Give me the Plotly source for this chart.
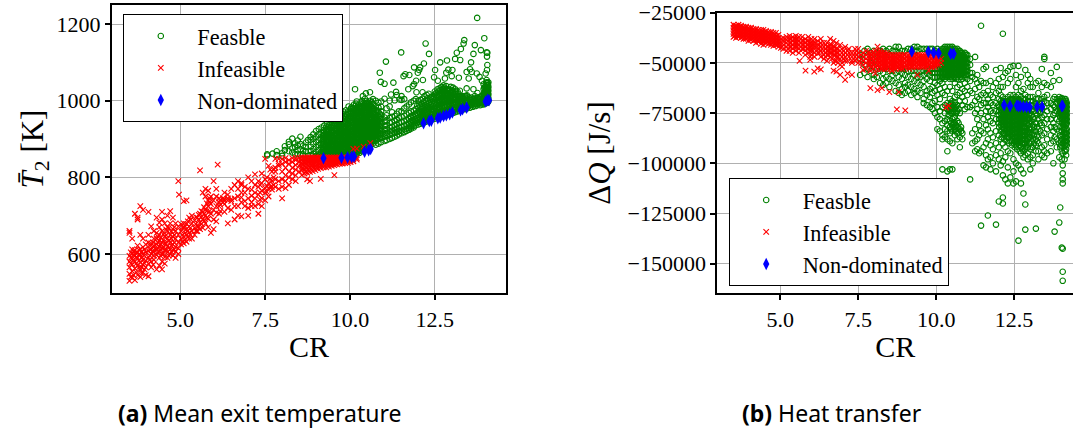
import plotly.graph_objects as go

W, H = 1073, 429

# Every row: (CR, [values at about that CR])
# Panel (a): mean exit temperature [K]
feasible_a = [
(7.56,[857,860]),(7.72,[862]),(7.84,[858,868]),(8.0,[856,863]),(8.08,[871,881]),(8.2,[868,886,893]),(8.3,[865,876,901]),
(8.38,[860,879,889]),(8.46,[861,871,883,896]),(8.54,[858,873,887,906]),(8.62,[860,869,883]),(8.7,[868,879,891]),
(8.76,[856,897]),(8.84,[858,869,880,898,905]),(8.92,[862,874,887,901,912]),(9.0,[856,866,880,892,906,921]),
(9.08,[860,872,884,897,912,926]),(9.16,[855,866,877,889,901,916,930]),(9.24,[858,868,880,893,905,919,935]),
(9.32,[855,864,874,885,897,909,922,940]),(9.4,[857,868,878,889,902,914,928,944]),(9.48,[855,863,873,884,895,907,920,933,950]),
(9.56,[858,868,878,889,900,912,925,938,955]),(9.64,[855,864,874,884,895,906,918,931,944,962]),
(9.72,[857,867,877,887,899,910,922,935,948,968]),(9.8,[856,865,874,884,894,904,915,927,940,953,972]),
(9.88,[858,868,878,888,898,909,920,932,945,958,975]),(9.96,[856,865,874,884,894,905,916,928,940,952,965,985]),
(10.04,[858,868,878,888,898,909,920,932,944,956,968,982]),(10.12,[859,866,875,884,894,904,915,926,938,950,962,975,990]),
(10.2,[862,870,880,890,900,910,921,932,944,956,968,980,998]),(10.28,[864,873,883,892,902,913,924,935,947,959,971,984]),
(10.36,[868,876,886,895,905,916,927,938,950,962,974,986,1000]),(10.44,[872,881,890,900,910,921,932,944,956,968,980,992,1005]),
(10.52,[876,885,895,905,915,926,937,948,960,972,984,996]),(10.6,[882,890,900,910,920,931,942,953,964,976,988,1000]),
(10.68,[888,896,906,916,926,936,947,958,968,980,992,1004]),(10.76,[885,895,903,912,922,932,942,952,963,975,986,1000]),
(10.84,[888,900,908,917,927,937,948,958,970,982,995]),(10.92,[892,903,912,921,930,941,952,962,972,984,998]),
(11.02,[895,906,914,924,934,945,956,1005]),(11.08,[897,908,916,926,936,948,962,980]),(11.17,[900,911,920,930,942,955,985,1000]),
(11.24,[903,914,922,932,944,958,970]),(11.32,[906,916,925,936,948,960,1001]),(11.38,[909,918,927,938,950,966]),
(11.44,[912,920,930,942,955,972]),(11.52,[915,922,932,944,958,972,1002,1012]),(11.6,[918,925,935,946,960,980,1004]),(11.67,[921,927,938,950,964,985]),
(11.74,[924,929,940,953,968,990]),(11.8,[927,932,943,956,972,996]),(11.88,[930,934,945,958,974,1000]),(11.94,[936,948,961,978,1004]),
(12.02,[938,950,964,982,1000]),(12.08,[940,952,966,984,1002]),(12.14,[942,954,968,986,1005,1022]),(12.2,[944,956,970,988,1012]),
(12.26,[946,958,972,990,1015]),(12.32,[948,960,975,993,1018]),(12.4,[950,962,978,996,1010]),(12.5,[953,965,980,998,1016,1024]),
(12.58,[955,967,982,1000,1014,1030]),(12.64,[957,969,984,1002,1018,1032]),(12.7,[958,970,986,1004,1020,1036]),(12.76,[960,972,988,1006,1022,1040]),
(12.84,[962,974,990,1006,1020,1038]),(12.9,[964,976,992,1004,1018,1030]),(12.97,[966,978,994,1008,1022,1036]),(13.04,[968,980,994,1006,1020,1034]),
(13.1,[970,982,996,1008,1022,1030]),(13.17,[972,984,996,1010,1024]),(13.24,[974,986,998,1012,1026]),(13.3,[976,986,998,1010]),
(13.39,[978,988,1000,1012]),(13.45,[980,990,1002,1014]),(13.54,[982,992,1002]),(13.62,[984,994,1004]),
(13.7,[986,996,1006]),(13.76,[988,996,1008,1020]),(13.84,[988,998,1010]),(13.88,[990,1000,1012]),
(13.94,[990,1000,1010,1030]),(13.98,[992,1002,1012,1024,1036]),(14.02,[994,1002,1012,1024,1036,1048]),(14.04,[994,1002,1012,1022,1034,1046]),
(14.06,[996,1004,1014,1024,1034,1046]),(14.08,[998,1006,1016,1026,1036,1048]),
]

# scattered points above the main band
feasible_a_sparse_x = [13.75,13.37,13.35,13.96,13.68,13.27,13.15,13.10,13.25,13.64,13.86,14.03,14.05,12.23,12.33,11.51,11.06,12.66,12.86,13.57,14.04,14.05,14.04,14.0,10.88,10.91,11.02,11.28,10.15,10.59,10.47,10.38,11.21,11.36,11.38,11.46,11.58,11.63,11.75,11.89,12.07,12.18,12.0,12.04,12.15,11.95,11.89,11.85,11.72,11.96,12.51,12.48,12.8,12.84,12.9,13.02,13.0,13.21,12.59,13.44,13.54,13.59,13.5,13.44,13.64,13.74,13.82,13.89,14.03,13.94]
feasible_a_sparse_y = [1216,1158,1149,1163,1145,1135,1125,1109,1106,1122,1132,1126,1125,1149,1122,1126,1102,1100,1105,1100,1115,1093,1080,1071,1073,1049,1044,1047,1030,1022,1019,1012,1016,1023,1015,1003,1064,1069,1067,1087,1087,1097,1073,1080,1054,1052,1043,1038,1030,1022,1080,1061,1058,1073,1081,1080,1064,1060,1052,1075,1082,1075,1058,1032,1030,1071,1062,1052,1054,1043]

feasible_a_dense = [
(9.2,[861,871,883,896,908]),(9.28,[859,869,880,892,903,915]),(9.36,[862,872,883,894,906,918,932]),(9.44,[859,869,880,891,903,916,930]),
(9.52,[860,870,881,893,904,916,929,942]),(9.6,[859,869,880,891,903,915,928,941]),(9.68,[861,871,881,892,904,915,927,940,952]),
(9.76,[860,870,880,891,902,913,925,938,950]),(9.84,[861,870,880,890,900,911,922,934,947,960]),(9.92,[860,870,880,890,901,912,923,936,949,962]),
(10.0,[861,871,881,891,901,912,924,936,948,960,974]),(10.08,[862,871,881,891,902,913,925,937,949,961,973]),(10.16,[864,873,883,893,903,914,926,938,950,962,974,986]),
(10.24,[867,876,886,896,906,917,928,940,952,964,976,988]),(10.32,[870,879,889,899,909,920,932,943,955,967,979,992]),(10.4,[874,883,893,903,913,924,935,946,958,970,982,994]),
(10.48,[878,888,898,908,918,929,940,951,963,975,987,999]),(10.56,[884,893,903,913,923,934,945,956,968,980,992]),(10.64,[890,899,909,919,929,940,951,962,973,985,996]),
(10.72,[897,906,916,925,936,946,957,968,979]),(10.8,[902,911,921,930,941,951,962,973]),(10.88,[904,914,924,934,945,956,966]),
(11.78,[935,946,958]),(11.84,[938,949,962]),
(11.92,[941,952,966]),(11.98,[943,954,968,986]),(12.05,[945,956,970,990]),(12.11,[947,958,972,992]),(12.17,[949,960,974,996]),(12.23,[950,962,976,998]),
(12.29,[952,964,980,1000]),(12.36,[954,967,984,1003]),(12.44,[956,970,986,1004]),(12.54,[959,973,990,1008,1020]),(12.61,[961,976,993,1010,1024]),
(12.67,[963,978,996,1012,1028]),(12.73,[965,980,996,1014,1030]),(12.8,[967,982,998,1014,1030]),(12.87,[969,984,1000,1012,1026]),(12.93,[971,986,1000,1014,1028]),
(13.0,[973,988,1000,1014,1028]),(13.07,[975,988,1002,1016]),(13.14,[977,990,1004,1018]),(13.2,[979,992,1004,1018]),(13.27,[981,992,1004]),(13.34,[983,994,1006]),
(13.42,[985,996,1008]),(13.5,[987,997,1008]),(13.58,[989,998,1008]),(13.66,[990,1000]),(13.74,[992,1002]),(13.8,[993,1004]),(13.91,[995,1005]),(13.97,[996,1006,1018]),
(14.01,[997,1007,1018,1030]),(14.03,[998,1007,1018,1028,1040]),(14.05,[999,1008,1018,1029,1040]),(14.07,[1000,1010,1020,1031,1042]),
]

feasible_a_fill = [
(9.22,[863,875,887,899,911,923]),(9.3,[861,872,884,896,908,920,930]),(9.38,[860,873,885,897,910,922,936]),(9.46,[862,875,887,899,911,924,938]),
(9.54,[863,874,885,897,909,921,934,948]),(9.62,[862,874,886,898,910,922,934,950]),(9.7,[863,874,885,897,908,920,932,944,958]),(9.78,[862,874,886,897,908,920,932,944,958]),
(9.86,[863,875,885,895,906,917,928,940,952,966]),(9.94,[862,875,885,896,907,918,930,942,955,970]),(10.02,[864,875,885,896,907,918,930,942,954,966,978]),(10.1,[865,876,886,897,908,919,931,943,955,967,980]),
(10.18,[867,877,888,898,909,920,932,944,956,968,980,992]),(10.26,[870,880,890,901,912,923,934,946,958,970,982]),(10.34,[873,883,894,904,915,926,938,949,961,973,985,996]),(10.42,[878,888,898,908,919,930,941,952,964,976,988]),
(10.5,[882,892,902,913,924,934,945,957,969,981,993]),(10.58,[887,897,908,918,928,939,950,962,974,986]),(10.66,[893,903,914,924,935,945,956,967,978]),(10.74,[900,910,920,930,941,951,962]),
(12.03,[944,957,972]),(12.12,[950,963,979]),(12.2,[952,966,982]),(12.28,[955,968,984,1006]),(12.38,[958,972,989,1008]),(12.47,[960,975,992,1010]),(12.56,[963,979,996,1015]),(12.63,[965,981,998,1014]),
(12.7,[967,982,1000,1016,1026]),(12.78,[970,985,1002,1018,1034]),(12.86,[972,988,1004,1016,1030]),(12.95,[975,990,1006,1020]),(13.03,[977,992,1008,1024]),(13.12,[980,994,1010,1026]),(13.22,[983,996,1010]),(13.32,[986,998,1012]),
(13.44,[988,1000,1012]),(13.56,[990,1002]),(13.68,[992,1004,1012]),(13.82,[995,1008]),(13.96,[998,1008,1022,1034]),
]

infeasible_a = [
(3.5,[530,548,565,580,595,655,660]),(3.58,[538,555,572,588,600,612,640]),(3.66,[532,562,580,596,610,705]),(3.74,[545,570,590,604,622,690,695]),
(3.82,[540,558,578,598,612,650,725]),(3.9,[552,572,585,600,618,640,715]),(3.98,[545,565,582,605,625]),(4.06,[542,575,592,608,630,650,710]),
(4.14,[565,580,600,612,628,672]),(4.22,[585,596,610,622,640,660]),(4.3,[560,598,612,625,640,655,695]),(4.38,[570,590,606,620,635,650,670,682]),
(4.46,[560,580,600,615,630,660,690,710]),(4.54,[575,592,610,628,645,680]),(4.62,[590,605,620,640,660,670,700]),(4.7,[600,612,630,650,680,712]),
(4.78,[596,610,625,645,665,695]),(4.86,[590,606,618,640,660,680]),(4.94,[600,615,630,650,672,790]),(4.96,[755]),(5.02,[625,640,660,678]),
(5.1,[628,645,668,680,738]),(5.18,[632,650,665,678,740]),(5.26,[640,655,672,695]),(5.34,[640,660,680,700]),(5.42,[650,668,688]),(5.5,[660,672,695]),
(5.58,[665,682,705,818]),(5.66,[668,690,710,760]),(5.74,[680,700,715,750,770]),(5.82,[670,692,725,740,765]),(5.9,[655,705,730,750]),(5.98,[665,690,715,740,790]),
(6.06,[685,708,725,750,770]),(6.1,[833]),(6.14,[705,725,735,745]),(6.3,[710,730,742,760]),(6.4,[680,720,740,745,755]),(6.5,[715,738,743,770]),(6.6,[690,725,745,780]),
(6.7,[700,725,750,770,790]),(6.8,[698,735,748,760,780,785]),(6.9,[725,738,760,775]),(7.0,[700,720,745,770,800]),(7.1,[725,735,752,768,790]),(7.2,[725,745,760,780,808]),
(7.3,[705,730,755,775,790]),(7.4,[725,745,765,785,810]),(7.5,[740,760,772,795,848]),(7.6,[750,770,785,830]),(7.7,[768,775,790,815]),(7.8,[775,795,815,825,848]),
(7.9,[770,790,830,835,848]),(8.0,[745,775,795,815,835,848]),(8.1,[772,790,805,825,840,850]),(8.2,[780,800,815,835,845]),(8.3,[795,810,825,840,850]),
(8.4,[790,805,820,832,845,850]),(8.5,[815,830,840,850]),(8.58,[806,818,828,838,846,852]),(8.66,[810,820,830,838,846,852]),(8.74,[795,812,824,834,842,852]),
(8.82,[790,814,826,836,844,852]),(8.9,[816,826,834,842,848,852]),(8.98,[819,828,836,843,848,852]),(9.06,[822,830,838,845,852]),(9.14,[796,824,832,840,846,852]),
(9.22,[826,834,841,847,852]),(9.3,[826,834,842,847,852]),(9.38,[828,836,842,848,852]),(9.46,[830,836,843,848,852]),(9.54,[806,832,838,844,849,852]),
(9.62,[834,840,845,849,852]),(9.7,[835,841,846,852]),(9.78,[836,841,846,852]),(9.86,[837,842,847,852]),(9.94,[838,843,848,852]),(10.02,[840,845,849,852]),
(10.1,[842,847,852,874]),(10.2,[846,850,875]),(10.4,[880]),(10.6,[889]),
]

infeasible_a_dense = [
(3.54,[540,575,590,604]),(3.62,[545,585,598,606]),(3.7,[552,575,592,604]),(3.78,[565,582,598,610]),(3.86,[550,565,592,607]),(3.94,[560,576,596,612]),
(4.1,[585,596,612,622]),(4.2,[572,604,618,630]),(4.34,[604,615,630,645]),(4.42,[595,612,626,642]),(4.5,[600,616,636,652]),(4.58,[612,626,650,664]),(4.66,[596,616,636,668]),
(4.74,[605,622,640,658]),(4.82,[612,630,650,670]),(5.06,[632,650,668]),(5.14,[636,655,672]),(5.22,[645,660,685]),(5.3,[650,668,690]),(5.46,[660,678,696]),(5.54,[672,690,702]),
(5.62,[678,696,712]),(5.7,[686,705,722]),(5.78,[695,712,732]),(5.86,[712,735,745]),(6.18,[712,728,742]),(6.26,[735,742,746]),(7.35,[742,760,780]),(7.55,[762,778,800]),
(7.65,[775,796,820]),(7.75,[780,800,822]),(8.6,[822,834,842,849]),(8.7,[816,826,836,844,850]),(8.78,[820,830,840,848]),(8.86,[822,832,840,846,850]),(8.94,[824,833,840,846,850]),
(9.02,[826,834,842,850]),(9.1,[828,836,844,850]),(9.18,[830,838,844,850]),(9.26,[830,838,845,850]),(9.34,[832,840,846,850]),(9.42,[834,840,846,850]),(9.5,[834,841,846,850]),
(9.58,[836,842,847,850]),(9.66,[838,843,848,851]),(9.74,[838,844,849]),(9.82,[840,845,850]),(9.9,[841,846,850]),(9.98,[842,847,851]),
]

non_dominated_a_x = [9.22,9.75,9.93,10.05,10.12,10.43,10.55,10.61,12.17,12.34,12.4,12.59,12.66,12.76,12.84,12.94,13.02,13.26,13.32,13.44,14.0,14.06,14.1]
non_dominated_a_y = [850,851,852,853,854,867,871,874,941,947,948,954,956,960,962,965,969,975,978,982,998,1002,1001]

# Panel (b): heat transfer, values in thousands of J/s
feasible_b = [
(7.56,[-46,-48,-56]),(7.7,[-44,-51,-55]),(7.8,[-43,-47,-53,-57]),(7.9,[-45,-50,-54]),(8.0,[-44,-48,-52,-56,-58]),(8.1,[-45,-47,-53,-57]),(8.2,[-44,-48,-54,-60]),
(8.3,[-43,-46,-52,-55,-58,-61]),(8.4,[-44,-47,-53,-57,-60]),(8.5,[-43,-46,-54,-58,-62]),(8.6,[-44,-50,-54,-56,-59]),(8.7,[-42,-44,-55,-60,-64]),
(8.8,[-42,-45,-54,-57,-61,-65]),(8.9,[-44,-53,-55,-58,-63,-66]),(9.0,[-44,-53,-56,-60,-62,-65]),(9.1,[-43,-54,-57,-61,-64]),(9.2,[-43,-54,-58,-62,-66]),
(9.3,[-42,-44,-54,-56,-59,-63,-65]),(9.4,[-42,-44,-54,-57,-60,-64,-67]),(9.5,[-43,-54,-57,-61,-65]),(9.6,[-43,-54,-56,-59,-62,-68,-70]),(9.7,[-43,-53,-55,-58,-64,-66,-71]),
(9.8,[-43,-53,-54,-56,-59,-63,-67,-72]),(9.88,[-43,-45,-53,-55,-57,-62,-65,-70,-73]),(9.96,[-44,-46,-53,-55,-57,-60,-64,-69,-75]),(10.04,[-43,-45,-47,-53,-55,-57,-61,-66,-72,-77,-83]),
(10.12,[-44,-46,-48,-53,-55,-57,-59,-63,-68,-74,-78,-84]),(10.2,[-43,-45,-47,-49,-51,-53,-55,-57,-60,-65,-72,-80,-86,-88,-103]),(10.28,[-42,-44,-46,-48,-50,-52,-54,-56,-58,-62,-66,-71,-75,-79,-83,-87]),
(10.36,[-42,-44,-46,-48,-50,-52,-54,-56,-57,-64,-70,-73,-78,-81,-84,-88,-94,-104]),(10.44,[-42,-44,-46,-48,-50,-52,-54,-56,-58,-62,-68,-71,-74,-79,-82,-85,-89,-103]),
(10.52,[-42,-44,-46,-48,-50,-52,-54,-56,-58,-64,-69,-72,-75,-78,-81,-84,-90,-103]),(10.6,[-43,-45,-47,-49,-51,-53,-55,-57,-60,-67,-70,-73,-77,-80,-83,-86]),
(10.68,[-43,-45,-47,-49,-51,-53,-55,-57,-62,-66,-71,-74,-79,-82,-85,-88]),(10.76,[-44,-46,-48,-50,-52,-54,-56,-61,-65,-69,-75,-83,-87,-92]),
(10.84,[-45,-47,-49,-51,-53,-55,-58,-63,-67,-71,-85,-88]),(10.92,[-45,-47,-49,-51,-53,-55,-57,-60,-64,-69,-73]),(11.0,[-46,-48,-50,-52,-54,-56,-58,-62,-66,-72]),
(11.09,[-48,-51,-55,-59,-64,-72,-108]),(11.16,[-55,-57,-65,-71,-85,-90]),(11.25,[-47,-58,-63,-69,-75,-83,-89,-94]),(11.32,[-56,-60,-67,-73,-78,-88,-93]),(11.38,[-62,-68,-81,-86,-95]),
(11.44,[-31.5,-59,-66,-71,-75,-84,-94,-131]),(11.52,[-53,-60,-65,-70,-78,-85,-92,-101]),(11.6,[-52,-60,-66,-70,-74,-81,-90,-96,-102]),(11.66,[-64,-68,-72,-77,-83,-88,-98,-126]),
(11.74,[-59,-66,-70,-74,-79,-85,-91,-97,-103]),(11.82,[-62,-67,-71,-75,-80,-87,-93,-100]),(11.92,[-53.5,-60,-65,-70,-74,-78,-84,-90,-96,-104,-130.5]),(12.01,[-58,-64,-68,-71,-76,-80,-86,-92,-98,-119]),
(12.07,[-52.5,-62,-66,-69,-73,-75,-78,-81,-84,-88,-95,-101]),(12.14,[-35.5,-57,-62,-67,-69,-71,-74,-76,-78,-80,-82,-85,-90,-99,-106,-117,-120]),
(12.22,[-55,-68,-70,-72,-74,-76,-78,-80,-82,-84,-86,-92,-97,-108]),(12.3,[-54,-60,-67,-69,-71,-73,-75,-77,-79,-81,-83,-85,-87,-94,-102,-110]),
(12.38,[-52,-58,-66,-68,-70,-72,-74,-76,-78,-80,-82,-84,-86,-89,-95,-107]),(12.48,[-51.5,-66,-68,-70,-72,-74,-76,-78,-80,-82,-84,-86,-88,-90,-98,-104,-110]),
(12.56,[-56,-62,-67,-69,-71,-73,-75,-77,-79,-81,-83,-85,-87,-89,-91,-100,-109]),(12.64,[-51.5,-60,-66,-68,-70,-72,-74,-76,-78,-80,-82,-84,-86,-88,-90,-92,-101,-138.5]),
(12.72,[-57,-64,-67,-69,-71,-73,-75,-77,-79,-81,-83,-85,-87,-89,-92,-95,-103,-110]),(12.8,[-63,-68,-70,-72,-74,-76,-78,-80,-82,-84,-86,-88,-90,-94,-97,-105,-115]),
(12.86,[-53.5,-66,-68,-70,-72,-75,-77,-79,-82,-84,-86,-88,-90,-93,-96,-120.5,-133]),(12.94,[-56,-60,-67,-69,-71,-74,-78,-81,-84,-86,-88,-92,-95,-98]),
(13.02,[-58,-62,-67,-69,-71,-75,-79,-82,-85,-87,-90,-93,-97,-103]),(13.1,[-62,-67,-69,-71,-77,-81,-85,-88,-92,-96,-100]),(13.2,[-60,-68,-70,-72,-75,-80,-84,-88,-91,-94,-132.5]),
(13.28,[-59,-65,-68,-71,-74,-78,-83,-87,-90,-94,-98]),(13.39,[-53,-62,-68,-70,-73,-77,-81,-86,-92,-96]),(13.47,[-47,-48,-60,-67,-69,-72,-76,-80,-85,-91,-94,-97]),
(13.56,[-61,-66,-70,-74,-78,-83,-88,-95]),(13.68,[-55,-62,-70,-73,-78,-82,-86,-90,-94]),(13.76,[-59,-68,-71,-76,-80,-84,-89,-100]),(13.8,[-67,-72,-75,-82,-87,-134]),
(13.87,[-52,-68,-70,-74,-78,-83,-88,-92]),(13.95,[-58.5,-67,-69,-72,-75,-79,-84,-90,-97,-129.5]),(13.98,[-68,-70,-72,-74,-77,-82,-86,-92,-122]),(14.03,[-67.5,-70,-72,-74,-76,-78,-80,-84,-88,-94,-98,-142]),
(14.06,[-68,-70,-72,-74,-76,-78,-80,-82,-86,-90,-95,-101,-105,-108,-110,-142.5,-154,-158.5]),(14.12,[-68,-70,-72,-74,-76,-78,-80,-82,-85,-87,-89,-91,-94,-98]),(14.17,[-69,-71,-73,-75,-77,-79,-81,-84,-86,-88,-90,-93,-96]),
]

feasible_b_dense = [
(10.16,[-45,-49,-52,-54,-56,-58]),(10.24,[-43,-45,-47,-49,-51,-53,-55,-57]),(10.32,[-43,-45,-47,-49,-51,-53,-55,-57]),(10.4,[-43,-45,-47,-49,-51,-53,-55,-57,-72,-74,-76]),
(10.48,[-43,-45,-47,-49,-51,-53,-55,-57,-70,-73,-75,-80,-83]),(10.56,[-43,-45,-47,-49,-51,-53,-55,-57,-71,-74,-77,-80,-82]),(10.64,[-44,-46,-48,-50,-52,-54,-56,-58,-72,-75,-81,-84]),
(10.72,[-44,-46,-48,-50,-52,-54,-56,-58,-73,-80,-83,-85]),(10.8,[-45,-47,-49,-51,-53,-55,-57,-82,-84]),(10.88,[-46,-48,-50,-52,-54,-56]),(10.96,[-46,-48,-50,-52,-54,-56]),
(12.02,[-72,-74,-78,-82]),(12.1,[-70,-72,-77,-79,-83,-87]),(12.18,[-69,-71,-73,-75,-77,-79,-81,-83,-85,-88]),(12.26,[-69,-71,-73,-75,-77,-79,-81,-83,-85,-87,-89]),
(12.34,[-69,-71,-73,-75,-77,-79,-81,-83,-85,-87,-90]),(12.43,[-69,-71,-73,-75,-77,-79,-81,-83,-85,-87,-89,-91]),(12.52,[-69,-71,-73,-75,-77,-79,-81,-83,-85,-87,-89,-92]),
(12.6,[-69,-71,-73,-75,-77,-79,-81,-83,-85,-87,-89,-93]),(12.68,[-69,-71,-73,-75,-77,-79,-81,-83,-85,-87,-89,-91,-94]),(12.76,[-70,-72,-74,-76,-78,-80,-82,-84,-86,-88,-90,-93]),
(12.84,[-71,-74,-76,-78,-80,-82,-84,-86,-88,-90,-92]),(12.9,[-72,-74,-76,-78,-80,-83,-85,-87,-89,-91]),(12.98,[-73,-76,-78,-80,-83,-85,-87,-90]),(13.06,[-74,-76,-79,-83,-86,-89,-92]),
(13.14,[-74,-78,-82,-86,-90]),(13.24,[-76,-82,-86,-89]),(13.34,[-72,-75,-80,-84]),(14.0,[-69,-71,-73,-75,-87,-89,-91]),(14.09,[-69,-71,-73,-75,-77,-79,-81,-83,-85,-88,-90,-92]),
(14.15,[-68,-70,-72,-74,-76,-78,-80,-83,-85,-87,-89,-91,-94]),(14.19,[-70,-72,-74,-76,-78,-80,-83,-85,-87,-89,-91]),
]

infeasible_b = [
(3.5,[-31,-32.5,-34,-35.5,-37]),(3.58,[-31.5,-33,-34.5,-36,-37.5]),(3.66,[-31,-32.5,-34,-35.5,-37]),(3.74,[-31.5,-33,-34.5,-36,-37.5]),(3.82,[-32,-33.5,-35,-36.5,-38]),
(3.9,[-32,-33.5,-35,-36.5,-38]),(3.98,[-32.5,-34,-35.5,-37,-39]),(4.06,[-32.5,-34,-35.5,-37,-38.5]),(4.14,[-33,-34.5,-36,-37.5,-39]),(4.22,[-33,-34.5,-36,-37.5,-40]),
(4.3,[-33.5,-35,-36.5,-38,-39.5]),(4.38,[-33.5,-35,-36.5,-38,-40.5]),(4.46,[-33.5,-35,-36.5,-38,-39.5,-41]),(4.54,[-34,-35.5,-37,-38.5,-40]),(4.62,[-34.5,-36,-37.5,-39,-40.5]),
(4.7,[-34.5,-36,-37.5,-39,-41]),(4.78,[-35,-36.5,-38,-39.5,-41.5]),(4.86,[-35,-36.5,-38,-39.5,-41]),(4.94,[-36,-37.5,-39,-40.5,-42]),(5.02,[-38,-39.5,-41,-42.5]),(5.1,[-37.5,-39,-41,-43]),
(5.2,[-37,-38.5,-40,-42,-44]),(5.3,[-36.5,-38,-40,-42,-44]),(5.4,[-37,-39,-41,-43,-45]),(5.5,[-36.5,-38,-40,-42,-44]),(5.6,[-37,-39,-41,-43,-45]),(5.62,[-49]),(5.7,[-37,-39,-41,-43]),
(5.81,[-53.8]),(5.8,[-38,-40,-42,-44,-46]),(5.9,[-37,-39,-41,-43,-45]),(5.96,[-48.5,-47]),(6.0,[-38,-40,-42,-44,-46]),(6.09,[-54.3]),(6.1,[-38,-40,-42,-45,-47]),(6.2,[-39,-41,-43,-45,-52.7]),
(6.3,[-38,-40,-42,-44,-47,-53.2]),(6.4,[-40,-42,-44,-46,-48]),(6.5,[-40,-42,-44,-46,-49]),(6.6,[-38,-41,-43,-45,-47]),(6.71,[-39,-42,-44,-46,-50,-53.8]),(6.8,[-40,-43,-45,-47,-49,-54.3]),
(6.92,[-41,-44,-46,-48,-51,-56]),(6.98,[-43,-45,-47,-50,-51.9]),(7.08,[-42,-45,-47,-49,-58.5]),(7.16,[-44,-46,-49,-55.2]),(7.3,[-45,-47,-49,-50,-56]),(7.4,[-43,-45,-47,-49]),
(7.5,[-43,-45,-47,-50]),(7.65,[-45,-47,-49,-51,-53.5]),(7.75,[-44,-46,-48,-50,-53]),(7.89,[-45,-47,-49,-51,-54,-62.6]),(7.98,[-45,-47,-49,-51,-53]),(8.05,[-44,-46,-48,-50,-52,-55.2]),
(8.12,[-41.9,-45,-47,-49,-51,-53,-63.5]),(8.2,[-44,-46,-48,-50,-52]),(8.26,[-45,-47,-49,-51,-53,-62.6]),(8.34,[-45,-47,-49,-51,-53]),(8.42,[-45,-47,-49,-51,-53]),(8.5,[-46,-48,-50,-52,-64.5]),
(8.58,[-46,-48,-50,-52,-54]),(8.66,[-46,-48,-50,-52]),(8.74,[-46,-48,-50,-52,-73.1]),(8.8,[-46,-48,-50,-52,-64.5]),(8.88,[-46,-48,-50,-52]),(8.96,[-46,-48,-50,-52]),(9.01,[-46,-48,-50,-52,-73.6]),
(9.1,[-46,-48,-50,-52]),(9.18,[-46,-48,-50,-52]),(9.26,[-46,-48,-50,-52]),(9.34,[-46,-48,-50,-52]),(9.4,[-46,-48,-50,-52,-56]),(9.48,[-46,-48,-50,-52]),(9.56,[-46,-48,-50,-52]),(9.64,[-46,-48,-50,-52]),
(9.72,[-46,-48,-50,-52]),(9.76,[-47,-49,-51,-54]),(9.84,[-46,-48,-50,-52]),(9.92,[-47,-49,-51]),(10.0,[-47,-49,-51]),(10.08,[-47,-49,-51]),(10.16,[-48,-50]),(10.32,[-72.2]),(10.4,[-71.4]),
]

infeasible_b_dense = [
(3.54,[-32,-33.5,-35,-36.5]),(3.62,[-32,-33.5,-35,-36.5]),(3.7,[-32.5,-34,-35.5,-36.5]),(3.78,[-32.5,-34,-35.5,-37]),(3.86,[-33,-34.5,-36,-37.5]),(3.94,[-33,-34.5,-36,-37.5]),
(4.02,[-33.5,-35,-36.5,-38]),(4.1,[-33.5,-35,-36.5,-38]),(4.18,[-34,-35.5,-37,-38.5]),(4.26,[-34,-35.5,-37,-38.5]),(4.34,[-34.5,-36,-37.5,-39]),(4.42,[-34.5,-36,-37.5,-39]),
(4.5,[-35,-36.5,-38,-39.5]),(4.58,[-35,-36.5,-38,-39.5]),(4.66,[-35.5,-37,-38.5,-40]),(4.74,[-35.5,-37,-38.5,-40]),(4.82,[-36,-37.5,-39,-40.5]),(4.9,[-36.5,-38,-39.5,-41]),
(5.25,[-39,-41,-43]),(5.35,[-38,-40,-42]),(5.45,[-38,-40,-42]),(5.55,[-38,-40,-42]),(5.75,[-39,-41,-43]),(5.85,[-39,-41,-43]),(5.95,[-40,-42,-44]),(6.05,[-40,-42,-44]),(6.25,[-41,-43,-45]),
(6.45,[-41,-43,-45,-47]),(6.55,[-42,-44,-46]),(6.65,[-41,-43,-45,-48]),(6.75,[-42,-44,-46,-49]),(6.85,[-43,-45,-47,-50]),(7.03,[-44,-46,-48]),(7.2,[-43,-45,-47]),(7.45,[-44,-46,-48]),
(7.6,[-46,-48,-50]),(7.82,[-45,-47,-49,-51]),(7.94,[-46,-48,-50,-52]),(8.02,[-45,-47,-49,-51]),(8.16,[-45,-47,-49,-51]),(8.23,[-45,-47,-49,-51,-53]),(8.3,[-46,-48,-50,-52]),(8.38,[-46,-48,-50,-52]),
(8.46,[-46,-48,-50,-52]),(8.54,[-47,-49,-51,-53]),(8.62,[-47,-49,-51,-53]),(8.7,[-47,-49,-51,-53]),(8.84,[-47,-49,-51,-53]),(8.92,[-47,-49,-51,-53]),(9.05,[-47,-49,-51]),(9.14,[-47,-49,-51,-53]),
(9.22,[-47,-49,-51]),(9.3,[-47,-49,-51]),(9.44,[-47,-49,-51]),(9.52,[-47,-49,-51]),(9.6,[-47,-49,-51]),(9.68,[-47,-49,-51]),(9.8,[-47,-49,-51]),(9.88,[-47,-49,-51,-52]),(9.96,[-48,-50,-52]),(10.04,[-48,-50]),
]

non_dominated_b_x = [9.22,9.75,9.92,10.08,10.47,10.56,12.18,12.37,12.59,12.64,12.7,12.8,12.9,13.0,13.24,13.4,14.03,14.06]
non_dominated_b_y = [-44300,-44500,-45000,-45200,-45500,-45500,-71000,-71500,-71200,-71500,-71600,-71800,-71900,-72000,-71800,-71800,-71500,-71400]

# Axis ticks and labels
cr_ticks = [5, 7.5, 10, 12.5]
cr_labels = ["5.0", "7.5", "10.0", "12.5"]
temp_ticks = [600, 800, 1000, 1200]
heat_ticks = [-25000, -50000, -75000, -100000, -125000, -150000]
heat_labels = ["−25000", "−50000", "−75000", "−100000", "−125000", "−150000"]


def expand(rows, factor=1):
    xs, ys = [], []
    for cr, values in rows:
        for value in values:
            xs.append(cr)
            ys.append(value * factor)
    return xs, ys


GREEN, RED, BLUE = "#008000", "#ff0000", "#0000ff"
SERIF = "Liberation Serif"


def add_series(fig, x, y, name, kind, xaxis, yaxis, legend):
    if kind == "feasible":
        marker = dict(symbol="circle-open", size=5.5, color=GREEN, line=dict(width=1.1, color=GREEN))
    elif kind == "infeasible":
        marker = dict(symbol="x-thin-open", size=5.5, color=RED, line=dict(width=1.1, color=RED))
    else:
        marker = dict(symbol="diamond-tall", size=9, color=BLUE, line=dict(width=0))
    fig.add_trace(go.Scatter(x=x, y=y, name=name, mode="markers", marker=marker,
                             xaxis=xaxis, yaxis=yaxis, legend=legend))


fig = go.Figure()
fxa, fya = expand(feasible_a + feasible_a_dense + feasible_a_fill)
fxb, fyb = expand(feasible_b + feasible_b_dense, 1000)
ixa, iya = expand(infeasible_a + infeasible_a_dense)
ixb, iyb = expand(infeasible_b + infeasible_b_dense, 1000)

add_series(fig, fxa + feasible_a_sparse_x, fya + feasible_a_sparse_y, "Feasble", "feasible", "x", "y", "legend")
add_series(fig, ixa, iya, "Infeasible", "infeasible", "x", "y", "legend")
add_series(fig, non_dominated_a_x, non_dominated_a_y, "Non-dominated", "nd", "x", "y", "legend")
add_series(fig, fxb, fyb, "Feasble", "feasible", "x2", "y2", "legend2")
add_series(fig, ixb, iyb, "Infeasible", "infeasible", "x2", "y2", "legend2")
add_series(fig, non_dominated_b_x, non_dominated_b_y, "Non-dominated", "nd", "x2", "y2", "legend2")


def axis_common():
    return dict(showgrid=True, gridcolor="#b0b0b0", gridwidth=1.3, zeroline=False, showline=True, automargin=False,
                linecolor="black", linewidth=2, ticks="outside", ticklen=5, tickwidth=1.5, tickcolor="black",
                tickfont=dict(family=SERIF, size=22, color="black"))


def xdom(a, b):
    return [a / W, b / W]


def ydom(top, bottom):
    return [1 - bottom / H, 1 - top / H]


legend_common = dict(xanchor="left", yanchor="top", font=dict(family=SERIF, size=22.3), bgcolor="white",
                     bordercolor="black", borderwidth=1, itemwidth=63, tracegroupgap=0,
                     entrywidth=154, entrywidthmode="pixels")

fig.update_layout(
    width=W, height=H, autosize=False, margin=dict(l=0, r=0, t=0, b=0, pad=0),
    paper_bgcolor="white", plot_bgcolor="white",
    font=dict(family=SERIF, color="black"),
    xaxis=dict(axis_common(), domain=xdom(112, 506), range=[2.985, 14.6], tickvals=cr_ticks, ticktext=cr_labels,
               mirror=True, anchor="y", title=dict(text="CR", font=dict(size=30), standoff=5)),
    yaxis=dict(axis_common(), domain=ydom(4.7, 293.3), range=[497.5, 1250.4], tickvals=temp_ticks, ticktext=[str(t) for t in temp_ticks],
               mirror=True, anchor="x", title=dict(text="<i>T̄</i><sub>2</sub> [K]", font=dict(size=31), standoff=4)),
    xaxis2=dict(axis_common(), domain=xdom(717.3, 1073), range=[2.98, 14.39], tickvals=cr_ticks, ticktext=cr_labels,
                mirror=True, anchor="y2", title=dict(text="CR", font=dict(size=30), standoff=5)),
    yaxis2=dict(axis_common(), domain=ydom(12.7, 293.3), range=[-164720, -25000], tickvals=heat_ticks, ticktext=heat_labels,
                mirror=True, anchor="x2", title=dict(text="Δ<i>Q</i> [J/s]", font=dict(size=31), standoff=8)),
    legend=dict(legend_common, x=123.3 / W, y=1 - 14 / H),
    legend2=dict(legend_common, x=728.7 / W, y=1 - 178 / H),
    annotations=[
        dict(text="<b>(a)</b> Mean exit temperature", xref="paper", yref="paper", x=259.5 / W, y=1 - 413 / H,
             xanchor="center", yanchor="middle", showarrow=False, font=dict(family="Noto Sans", size=23, color="black")),
        dict(text="<b>(b)</b> Heat transfer", xref="paper", yref="paper", x=832 / W, y=1 - 413 / H,
             xanchor="center", yanchor="middle", showarrow=False, font=dict(family="Noto Sans", size=23, color="black")),
    ],
)

fig.write_html("out.html", config={"displayModeBar": False},
               post_script="document.body.style.margin='0';document.body.style.overflow='hidden';")
